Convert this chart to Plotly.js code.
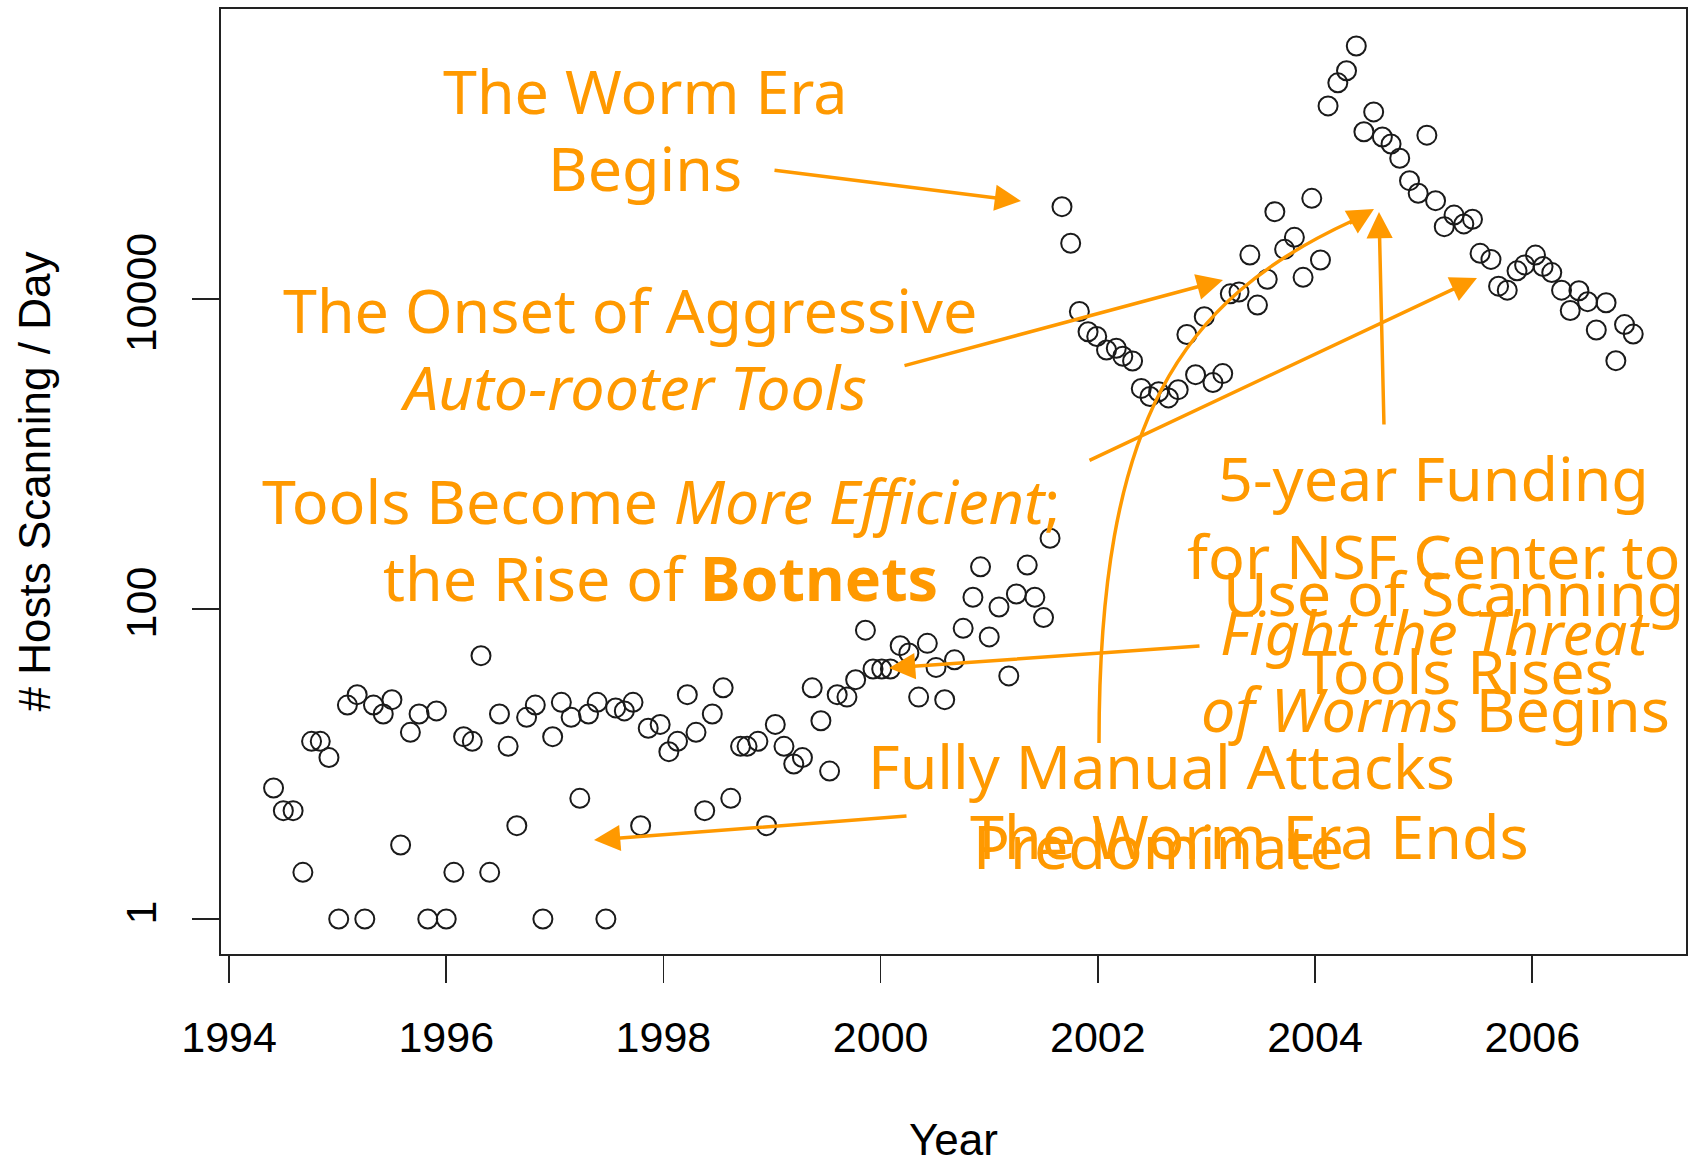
<!DOCTYPE html>
<html>
<head>
<meta charset="utf-8">
<script src="https://cdn.plot.ly/plotly-3.0.1.min.js"></script>
<style>html,body{margin:0;padding:0;background:#fff;}#chart{width:1689px;height:1164px;}</style>
</head>
<body>
<div id="chart"></div>
<script>
// ---- data ----
const years = [1994.41,1994.50,1994.59,1994.68,1994.76,1994.84,1994.92,1995.01,1995.09,1995.18,
1995.25,1995.33,1995.42,1995.50,1995.58,1995.67,1995.75,1995.83,1995.91,1996.00,
1996.07,1996.16,1996.24,1996.32,1996.40,1996.49,1996.57,1996.65,1996.74,1996.82,
1996.89,1996.98,1997.06,1997.15,1997.23,1997.31,1997.39,1997.47,1997.56,1997.64,
1997.72,1997.79,1997.86,1997.97,1998.05,1998.13,1998.22,1998.30,1998.38,1998.45,
1998.55,1998.62,1998.71,1998.77,1998.87,1998.95,1999.03,1999.11,1999.20,1999.28,
1999.37,1999.45,1999.53,1999.60,1999.69,1999.77,1999.86,1999.93,2000.01,2000.09,
2000.18,2000.26,2000.35,2000.43,2000.51,2000.59,2000.68,2000.76,2000.85,2000.92,
2001.00,2001.09,2001.18,2001.25,2001.35,2001.42,2001.50,2001.56,2001.67,2001.75,
2001.83,2001.91,2001.99,2002.08,2002.17,2002.23,2002.32,2002.40,2002.48,2002.56,
2002.65,2002.74,2002.82,2002.90,2002.98,2003.06,2003.15,2003.22,2003.30,2003.40,
2003.47,2003.56,2003.63,2003.72,2003.81,2003.89,2003.97,2004.05,2004.12,2004.21,
2004.29,2004.38,2004.45,2004.54,2004.62,2004.70,2004.78,2004.87,2004.95,2005.03,
2005.11,2005.19,2005.28,2005.37,2005.45,2005.52,2005.62,2005.69,2005.77,2005.86,
2005.93,2006.03,2006.10,2006.18,2006.27,2006.35,2006.43,2006.51,2006.59,2006.68,
2006.77,2006.85,2006.93];
const hostsPerDay = [7,5,5,2,14,14,11,1,24,28,
1,24,21,26,3,16,21,1,22,1,
2,15,14,50,2,21,13,4,20,24,
1,15,25,20,6,21,25,1,23,22,
25,4,17,18,12,14,28,16,5,21,
31,6,13,13,14,4,18,13,10,11,
31,19,9,28,27,35,73,41,41,41,
58,52,27,60,42,26,47,75,119,187,
66,103,37,125,192,119,88,286,39400,22900,
8300,6150,5730,4690,4810,4270,3980,2650,2350,2520,
2300,2600,5900,3250,7690,2890,3300,10800,11100,19200,
9140,13400,36600,20900,25000,13800,44600,17850,176000,248000,
297000,429000,120000,161000,111000,100000,80900,58000,48100,114000,
43100,29300,34800,30500,32700,19700,18000,12100,11400,15200,
16600,19200,16200,14800,11400,8430,11300,9610,6310,9460,
4000,6840,5940];
const xTickVals = [1994,1996,1998,2000,2002,2004,2006];
const xTickText = ["1994","1996","1998","2000","2002","2004","2006"];
const yTickVals = [1,100,10000];
const yTickText = ["1","100","10000"];

// ---- layout helpers (pixel -> paper) ----
const W = 1689, H = 1164;
const PL = 221, PR = 1686, PT = 9, PB = 954;
const px = X => (X - PL) / (PR - PL);
const py = Y => (PB - Y) / (PB - PT);
const ORANGE = '#FF9900';
const AFONT = {family: '"Noto Sans", "DejaVu Sans", sans-serif', size: 61, color: ORANGE};

function txt(text, X, Y) {
  return {text: text, xref: 'paper', yref: 'paper', x: px(X), y: py(Y),
          xanchor: 'center', yanchor: 'middle', showarrow: false, font: AFONT};
}
function arrow(tipX, tipY, tailX, tailY) {
  return {text: '', xref: 'paper', yref: 'paper', x: px(tipX), y: py(tipY),
          ax: tailX - tipX, ay: tailY - tipY, showarrow: true,
          arrowhead: 2, arrowsize: 1.5, arrowwidth: 3.5, arrowcolor: ORANGE};
}

const annotations = [
  txt('The Worm Era', 645, 91),
  txt('Begins', 645, 167),
  txt('The Onset of Aggressive', 630, 309),
  txt('<i>Auto-rooter Tools</i>', 633, 386),
  txt('Tools Become <i>More Efficient</i>;', 661, 501),
  txt('the Rise of <b>Botnets</b>', 660, 578),
  txt('5-year Funding', 1433, 477),
  txt('for NSF Center to', 1433, 555),
  txt('<i>Fight the Threat</i>', 1435, 631),
  txt('<i>of Worms</i> Begins', 1435, 708),
  txt('Use of Scanning', 1453, 592),
  txt('Tools Rises', 1458, 670),
  txt('Fully Manual Attacks', 1161, 765),
  txt('Predominate', 1158, 845),
  txt('The Worm Era Ends', 1249, 835),
  arrow(1021, 201, 773, 170),
  arrow(1223, 280, 903, 366),
  arrow(1477, 278, 1088, 461),
  arrow(1379, 212, 1384, 426),
  arrow(889, 668, 1201, 646),
  arrow(594, 840, 908, 816),
  arrow(1374, 209, 1348, 224)
];

const curve = 'M' + px(1099) + ',' + py(743) +
  ' C' + px(1099) + ',' + py(420) + ' ' + px(1180) + ',' + py(300) + ' ' + px(1352) + ',' + py(221);

const trace = {
  x: years, y: hostsPerDay, type: 'scatter', mode: 'markers',
  marker: {symbol: 'circle-open', size: 19, color: '#1a1a1a', line: {width: 2, color: '#1a1a1a'}},
  hoverinfo: 'x+y'
};

const axFont = {family: '"Liberation Sans", Arial, sans-serif', size: 43, color: '#000'};

const layout = {
  width: W, height: H,
  margin: {l: PL, r: W - PR, t: PT, b: H - PB, pad: 0},
  paper_bgcolor: '#fff', plot_bgcolor: '#fff',
  showlegend: false,
  xaxis: {
    range: [1993.926, 2007.416], tickmode: 'array', tickvals: xTickVals, ticktext: xTickText,
    ticks: 'outside', ticklen: 27, tickwidth: 1.5, tickcolor: '#222',
    tickfont: axFont, showgrid: false, zeroline: false,
    showline: true, mirror: true, linecolor: '#222', linewidth: 2,
    ticklabelstandoff: 17,
    title: {text: 'Year', font: {family: '"Liberation Sans", Arial, sans-serif', size: 44, color: '#000'}, standoff: 75}
  },
  yaxis: {
    type: 'log', range: [-0.226, 5.871], tickmode: 'array', tickvals: yTickVals, ticktext: yTickText,
    tickangle: -90,
    ticks: 'outside', ticklen: 27, tickwidth: 1.5, tickcolor: '#222',
    tickfont: axFont, showgrid: false, zeroline: false,
    showline: true, mirror: true, linecolor: '#222', linewidth: 2,
    ticklabelstandoff: 19,
    title: {text: '# Hosts Scanning / Day', font: {family: '"Liberation Sans", Arial, sans-serif', size: 44, color: '#000'}, standoff: 52}
  },
  shapes: [{type: 'path', xref: 'paper', yref: 'paper', path: curve,
            line: {color: ORANGE, width: 3.5}}],
  annotations: annotations
};

Plotly.newPlot('chart', [trace], layout, {displayModeBar: false, staticPlot: true});
</script>
</body>
</html>
